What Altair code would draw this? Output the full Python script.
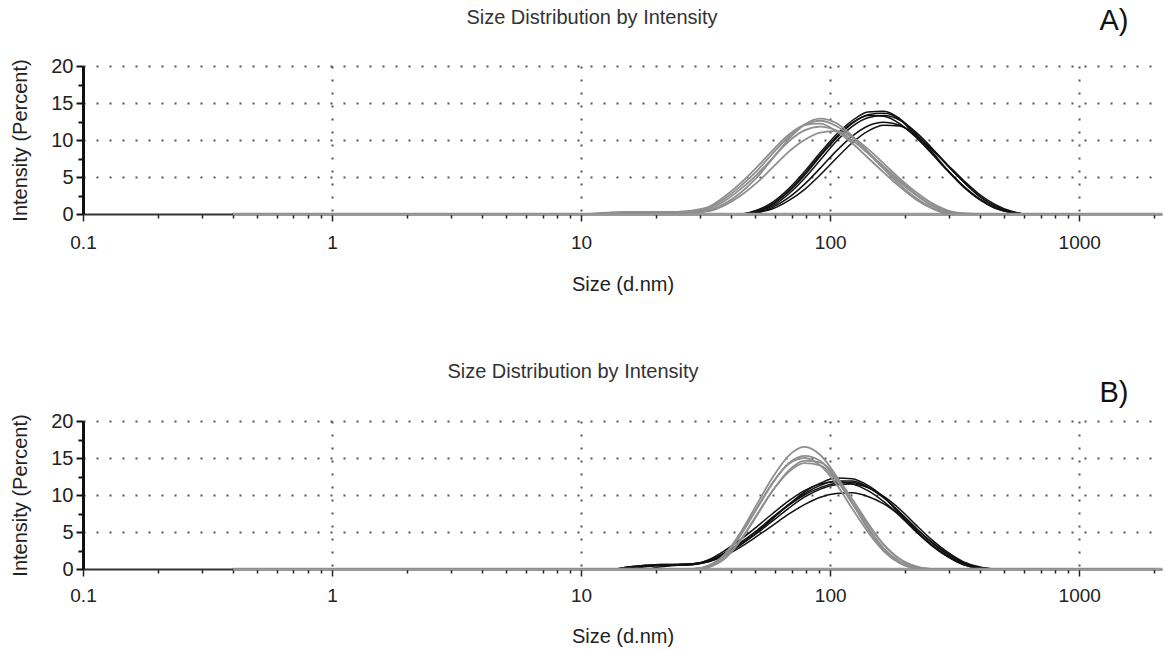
import altair as alt
import pandas as pd

# particle size bins (d.nm)
SIZES = [0.4, 10.1, 11.7, 13.5, 15.7, 18.2, 21.0, 24.4, 28.2, 32.7, 37.8, 43.8, 50.7, 58.8,
         68.1, 78.8, 91.3, 105.7, 122.4, 141.8, 164.2, 190.1, 220.2, 255.0, 295.3, 342.0,
         396.1, 458.7, 531.2, 615.1, 2000]

# Panel A, grey curves
A_G1 = [0, 0, 0, 0.2, 0.3, 0.3, 0.3, 0.3, 0.4, 0.9, 2.1, 3.8, 5.8, 8.2, 10.4, 12.0, 12.6, 11.9, 10.4, 8.4, 6.4, 4.5, 2.7, 1.2, 0.3, 0, 0, 0, 0, 0, 0]
A_G2 = [0, 0, 0, 0.1, 0.2, 0.2, 0.2, 0.2, 0.3, 0.7, 1.8, 3.4, 5.3, 7.6, 9.8, 11.3, 11.8, 11.3, 10.0, 8.2, 6.2, 4.3, 2.6, 1.2, 0.3, 0, 0, 0, 0, 0, 0]
A_G3 = [0, 0, 0, 0, 0.1, 0.2, 0.2, 0.2, 0.2, 0.5, 1.4, 2.9, 4.9, 7.5, 10.1, 12.1, 12.9, 12.3, 10.6, 8.4, 6.1, 4.0, 2.2, 0.9, 0.1, 0, 0, 0, 0, 0, 0]
A_G4 = [0, 0, 0, 0, 0, 0.1, 0.2, 0.2, 0.2, 0.4, 1.2, 2.5, 4.2, 6.3, 8.4, 10.0, 11.0, 11.2, 10.4, 8.8, 6.8, 4.8, 3.0, 1.5, 0.5, 0.1, 0, 0, 0, 0, 0]
A_G5 = [0, 0, 0.1, 0.2, 0.3, 0.3, 0.3, 0.3, 0.5, 1.0, 2.4, 4.2, 6.3, 8.6, 10.7, 12.0, 12.2, 11.2, 9.6, 7.6, 5.6, 3.7, 2.0, 0.8, 0.1, 0, 0, 0, 0, 0, 0]

# Panel A, black curves
A_B1 = [0, 0, 0, 0, 0, 0, 0, 0, 0, 0, 0, 0, 0.3, 1.3, 3.0, 5.2, 7.8, 10.2, 12.2, 13.4, 13.6, 12.8, 10.6, 8.3, 5.9, 3.7, 2.0, 0.8, 0.2, 0, 0]
A_B2 = [0, 0, 0, 0, 0, 0, 0, 0, 0, 0, 0, 0, 0.5, 1.6, 3.4, 5.7, 8.3, 10.7, 12.6, 13.8, 13.9, 12.9, 10.9, 8.5, 6.0, 3.8, 2.0, 0.8, 0.2, 0, 0]
A_B3 = [0, 0, 0, 0, 0, 0, 0, 0, 0, 0, 0, 0, 0.3, 1.1, 2.7, 4.8, 7.3, 9.8, 11.8, 13.0, 13.3, 12.7, 11.1, 9.0, 6.6, 4.4, 2.4, 1.1, 0.3, 0, 0]
A_B4 = [0, 0, 0, 0, 0, 0, 0, 0, 0, 0, 0, 0, 0.2, 0.7, 1.8, 3.3, 5.3, 7.5, 9.6, 11.2, 12.0, 11.9, 10.7, 8.8, 6.6, 4.4, 2.5, 1.1, 0.3, 0, 0]
A_B5 = [0, 0, 0, 0, 0, 0, 0, 0, 0, 0, 0, 0, 0.4, 1.4, 3.1, 5.4, 8.0, 10.4, 12.3, 13.3, 13.2, 12.2, 10.4, 8.2, 5.9, 3.8, 2.1, 0.9, 0.2, 0, 0]
A_B6 = [0, 0, 0, 0, 0, 0, 0, 0, 0, 0, 0, 0, 0.2, 0.9, 2.2, 4.0, 6.2, 8.5, 10.5, 11.9, 12.4, 12.0, 10.7, 8.8, 6.7, 4.6, 2.7, 1.3, 0.4, 0, 0]

# Panel B, grey curves
B_G1 = [0, 0, 0, 0, 0, 0, 0, 0, 0, 0.5, 2.0, 5.0, 8.7, 12.4, 15.3, 16.5, 15.4, 12.6, 9.0, 5.4, 2.6, 0.8, 0.1, 0, 0, 0, 0, 0, 0, 0, 0]
B_G2 = [0, 0, 0, 0, 0, 0, 0, 0, 0, 0.4, 1.8, 4.6, 8.1, 11.6, 14.3, 15.3, 14.6, 12.2, 8.9, 5.6, 2.8, 1.0, 0.2, 0, 0, 0, 0, 0, 0, 0, 0]
B_G3 = [0, 0, 0, 0, 0, 0, 0, 0, 0, 0.3, 1.4, 3.9, 7.2, 10.6, 13.3, 14.6, 14.4, 12.5, 9.5, 6.2, 3.3, 1.3, 0.3, 0, 0, 0, 0, 0, 0, 0, 0]
B_G4 = [0, 0, 0, 0, 0, 0, 0, 0, 0, 0.5, 1.9, 4.7, 8.2, 11.7, 14.2, 15.0, 14.0, 11.5, 8.2, 5.0, 2.4, 0.8, 0.1, 0, 0, 0, 0, 0, 0, 0, 0]
B_G5 = [0, 0, 0, 0, 0, 0, 0, 0, 0, 0.3, 1.5, 4.0, 7.3, 10.6, 13.1, 14.3, 14.0, 12.0, 9.1, 6.0, 3.3, 1.4, 0.4, 0, 0, 0, 0, 0, 0, 0, 0]

# Panel B, black curves
B_B1 = [0, 0, 0, 0, 0.3, 0.5, 0.6, 0.6, 0.7, 1.2, 2.2, 3.6, 5.2, 7.0, 8.7, 10.2, 11.3, 11.9, 11.9, 11.1, 9.7, 7.4, 5.2, 3.3, 1.8, 0.7, 0.2, 0, 0, 0, 0]
B_B2 = [0, 0, 0, 0, 0.2, 0.4, 0.5, 0.5, 0.6, 1.0, 1.9, 3.3, 4.9, 6.8, 8.7, 10.4, 11.6, 12.3, 12.2, 11.3, 9.7, 7.6, 5.3, 3.3, 1.7, 0.6, 0.1, 0, 0, 0, 0]
B_B3 = [0, 0, 0, 0, 0.2, 0.4, 0.5, 0.5, 0.6, 1.0, 1.8, 3.0, 4.4, 5.9, 7.4, 8.7, 9.7, 10.2, 10.3, 9.8, 8.8, 7.3, 5.5, 3.7, 2.1, 0.9, 0.2, 0, 0, 0, 0]
B_B4 = [0, 0, 0, 0, 0, 0.3, 0.5, 0.6, 0.7, 1.3, 2.5, 4.0, 5.7, 7.5, 9.2, 10.6, 11.5, 11.8, 11.5, 10.6, 9.1, 7.2, 5.1, 3.2, 1.7, 0.6, 0.1, 0, 0, 0, 0]
B_B5 = [0, 0, 0, 0, 0.3, 0.5, 0.6, 0.6, 0.7, 1.1, 2.0, 3.3, 4.8, 6.5, 8.2, 9.7, 10.8, 11.4, 11.5, 11.0, 9.8, 8.1, 6.0, 4.0, 2.3, 1.0, 0.3, 0, 0, 0, 0]
B_B6 = [0, 0, 0, 0, 0, 0, 0.3, 0.5, 0.6, 1.1, 2.1, 3.5, 5.1, 6.9, 8.6, 10.0, 11.0, 11.6, 11.7, 11.0, 9.6, 7.7, 5.6, 3.6, 2.0, 0.8, 0.2, 0, 0, 0, 0]

X_TICKS = [0.1, 0.2, 0.3, 0.4, 0.5, 0.6, 0.7, 0.8, 0.9,
           1, 2, 3, 4, 5, 6, 7, 8, 9,
           10, 20, 30, 40, 50, 60, 70, 80, 90,
           100, 200, 300, 400, 500, 600, 700, 800, 900,
           1000, 2000]
Y_TICKS = [0, 2.5, 5, 7.5, 10, 12.5, 15, 17.5, 20]
X_DOMAIN = [0.1, 2150]
Y_DOMAIN = [0, 20]

TITLE = "Size Distribution by Intensity"
X_TITLE = "Size (d.nm)"
Y_TITLE = "Intensity (Percent)"
PANEL_LABELS = ["A)", "B)"]

FONT = "Liberation Sans"

panels = {
    "A": {"grey": [A_G1, A_G2, A_G3, A_G4, A_G5], "black": [A_B1, A_B2, A_B3, A_B4, A_B5, A_B6]},
    "B": {"grey": [B_G1, B_G2, B_G3, B_G4, B_G5], "black": [B_B1, B_B2, B_B3, B_B4, B_B5, B_B6]},
}


def frame(series_list, tag):
    rows = []
    for i, vals in enumerate(series_list):
        for s, v in zip(SIZES, vals):
            rows.append({"curve": f"{tag}{i}", "size": s, "value": v})
    return pd.DataFrame(rows)


DECADE = "abs(log(datum.value)/LN10 - round(log(datum.value)/LN10)) < 0.000001"


def make_panel(key, label, title_x, title_y, label_y, label_pad, title_pad):
    x_axis = alt.Axis(
        values=X_TICKS,
        labelExpr=f"({DECADE}) ? format(datum.value, '~g') : ''",
        labelOverlap=False,
        labelFlush=False,
        labelFont=FONT, labelFontSize=19, labelColor="#222",
        labelPadding=label_pad,
        title=X_TITLE, titleFont=FONT, titleFontSize=20, titleFontWeight="normal",
        titleColor="#222", titlePadding=title_pad,
        grid=True,
        gridOpacity={"condition": {"test": DECADE, "value": 1}, "value": 0},
        gridDash=[2, 11], gridColor="#555", gridWidth=2,
        tickSize={"condition": {"test": DECADE, "value": 7}, "value": 4},
        tickColor="#222", tickWidth=1.5,
        domainColor="#333", domainWidth=2,
    )
    y_axis = alt.Axis(
        values=Y_TICKS,
        labelExpr="datum.value % 5 === 0 ? datum.label : ''",
        labelOverlap=False,
        labelFlush=False,
        labelFont=FONT, labelFontSize=20, labelColor="#222", labelPadding=3,
        title=Y_TITLE, titleFont=FONT, titleFontSize=20, titleFontWeight="normal",
        titleColor="#222", titlePadding=20,
        grid=True,
        gridOpacity={"condition": {"test": "datum.value % 5 === 0 && datum.value > 0", "value": 1}, "value": 0},
        gridDash=[2, 11], gridColor="#555", gridWidth=2,
        tickSize={"condition": {"test": "datum.value % 5 === 0", "value": 7}, "value": 5},
        tickColor="#111", tickWidth=2,
        domainColor="#111", domainWidth=3,
    )
    x_scale = alt.Scale(type="log", domain=X_DOMAIN, nice=False)
    y_scale = alt.Scale(domain=Y_DOMAIN, nice=False)
    x_enc = alt.X("size:Q", scale=x_scale, axis=x_axis)
    y_enc = alt.Y("value:Q", scale=y_scale, axis=y_axis)

    # zero baseline of the measured range (grey, over the axis line)
    base = alt.Chart(pd.DataFrame({"size": [SIZES[0]], "s1": [X_DOMAIN[1]], "value": [Y_DOMAIN[0]]})).mark_rule(
        color="#9a9a9a", strokeWidth=2.6
    ).encode(x=x_enc, x2="s1:Q", y=y_enc)

    black = alt.Chart(frame(panels[key]["black"], "b")).mark_line(
        color="#111", strokeWidth=1.5, interpolate="monotone", clip=True
    ).encode(x=x_enc, y=y_enc, detail="curve:N")
    grey = alt.Chart(frame(panels[key]["grey"], "g")).mark_line(
        color="#8f8f8f", strokeWidth=1.8, interpolate="monotone", clip=True
    ).encode(x=x_enc, y=y_enc, detail="curve:N")
    lab = alt.Chart(pd.DataFrame({"t": [label]})).mark_text(
        font=FONT, fontSize=29, color="#111", align="center", baseline="middle"
    ).encode(text="t:N", x=alt.value(1031), y=alt.value(label_y))
    ttl = alt.Chart(pd.DataFrame({"t": [TITLE]})).mark_text(
        font=FONT, fontSize=20, color="#333", align="center", baseline="middle"
    ).encode(text="t:N", x=alt.value(title_x), y=alt.value(title_y))

    return alt.layer(black, base, grey, lab, ttl).properties(width=1079, height=148)


top = make_panel("A", PANEL_LABELS[0], 509, -48, -45, 12, 22)
bottom = make_panel("B", PANEL_LABELS[1], 490, -49, -28, 10, 21)

chart = alt.vconcat(top, bottom, spacing=68).properties(
    padding={"left": 10, "top": 7, "right": 2, "bottom": 2},
    background="white",
).configure_view(stroke=None)

chart.save("out.html", embed_options={"renderer": "svg", "actions": False})
